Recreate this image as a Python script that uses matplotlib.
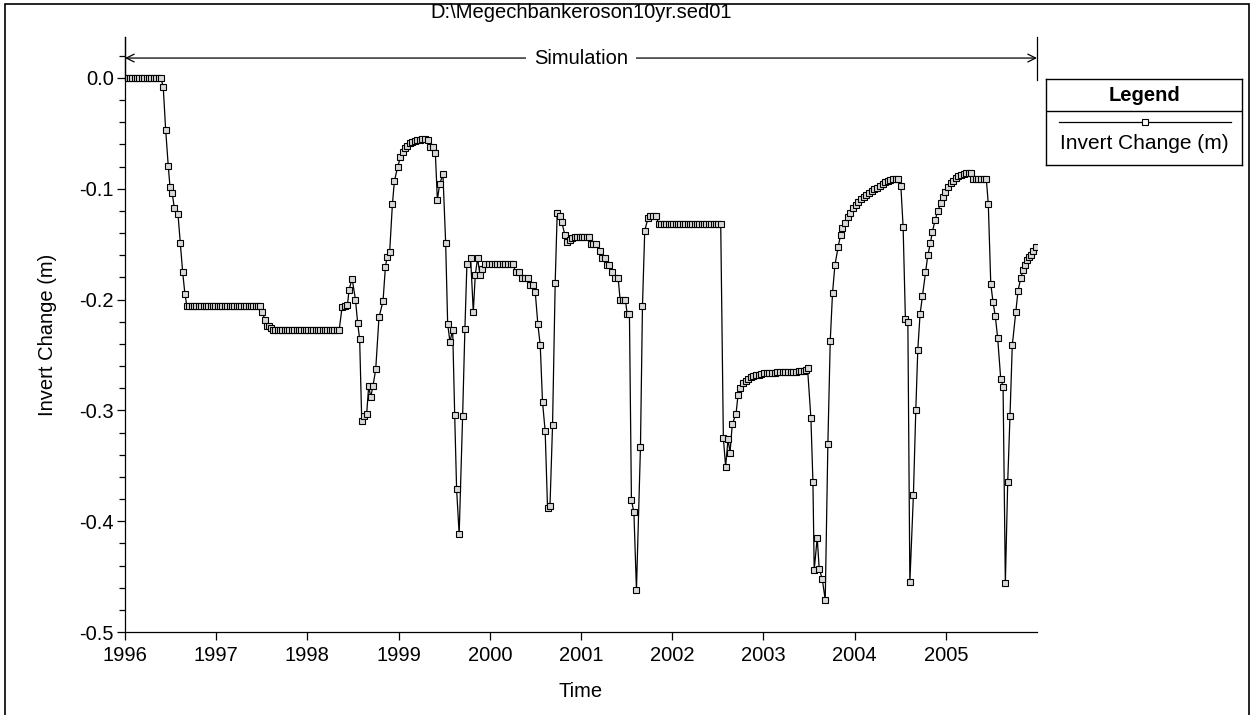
import numpy as np
import matplotlib
matplotlib.use("Agg")
import matplotlib.pyplot as plt
from matplotlib.lines import Line2D
from matplotlib.patches import Rectangle
from matplotlib.ticker import MultipleLocator, FormatStrFormatter

plt.rcParams['font.family'] = ['Liberation Sans', 'DejaVu Sans']
plt.rcParams['axes.unicode_minus'] = False

title = r"D:\Megechbankeroson10yr.sed01"
series_name = "Invert Change (m)"
year_ticks = list(range(1996, 2006))

# time in years since 1996-01-01, invert change in m
t_1996 = [0.000, 0.026, 0.053, 0.079, 0.105, 0.131, 0.158, 0.184, 0.210, 0.237,
          0.263, 0.289, 0.316, 0.342, 0.368, 0.394,
          0.419, 0.446, 0.474, 0.493, 0.518, 0.540, 0.581, 0.606, 0.632, 0.657,
          0.679, 0.705, 0.731, 0.757, 0.783, 0.809, 0.835, 0.861, 0.887, 0.913,
          0.939, 0.965, 0.991]
v_1996 = [0.0, 0.0, 0.0, 0.0, 0.0, 0.0, 0.0, 0.0, 0.0, 0.0,
          0.0, 0.0, 0.0, 0.0, 0.0, 0.0,
          -0.008, -0.047, -0.079, -0.098, -0.104, -0.117, -0.123, -0.149, -0.175, -0.195,
          -0.206, -0.206, -0.206, -0.206, -0.206, -0.206, -0.206, -0.206, -0.206, -0.206,
          -0.206, -0.206, -0.206]

t_1997 = [1.017, 1.043, 1.069, 1.095, 1.121, 1.147, 1.173, 1.199, 1.225, 1.251,
          1.277, 1.303, 1.329, 1.355, 1.381, 1.407, 1.433, 1.459, 1.485,
          1.504, 1.533, 1.559, 1.574, 1.599, 1.621,
          1.647, 1.673, 1.699, 1.725, 1.751, 1.777, 1.803, 1.829, 1.855, 1.881,
          1.907, 1.933, 1.959, 1.985]
v_1997 = [-0.206, -0.206, -0.206, -0.206, -0.206, -0.206, -0.206, -0.206, -0.206, -0.206,
          -0.206, -0.206, -0.206, -0.206, -0.206, -0.206, -0.206, -0.206, -0.206,
          -0.211, -0.218, -0.224, -0.224, -0.226, -0.227,
          -0.227, -0.227, -0.227, -0.227, -0.227, -0.227, -0.227, -0.227, -0.227, -0.227,
          -0.227, -0.227, -0.227, -0.227]

t_1998 = [2.011, 2.037, 2.063, 2.089, 2.115, 2.141, 2.167, 2.193, 2.219, 2.245,
          2.271, 2.297, 2.323, 2.349,
          2.380, 2.410, 2.439, 2.457, 2.490, 2.527, 2.551, 2.573, 2.596, 2.623,
          2.650, 2.672, 2.694, 2.719, 2.749, 2.785, 2.829, 2.855, 2.873, 2.902,
          2.932, 2.954, 2.990]
v_1998 = [-0.227, -0.227, -0.227, -0.227, -0.227, -0.227, -0.227, -0.227, -0.227, -0.227,
          -0.227, -0.227, -0.227, -0.227,
          -0.207, -0.206, -0.205, -0.191, -0.181, -0.200, -0.221, -0.236, -0.310, -0.305,
          -0.303, -0.278, -0.288, -0.278, -0.263, -0.216, -0.2015, -0.171, -0.1615, -0.157,
          -0.114, -0.093, -0.080]

t_1999 = [3.020, 3.048, 3.070, 3.092, 3.122, 3.151, 3.180, 3.206, 3.231, 3.261,
          3.289, 3.322, 3.348, 3.377, 3.403, 3.425, 3.450, 3.486, 3.516, 3.538,
          3.563, 3.593, 3.615, 3.636, 3.664, 3.702, 3.727, 3.749, 3.790, 3.819,
          3.841, 3.866, 3.892, 3.913, 3.951, 3.994]
v_1999 = [-0.0716, -0.0668, -0.0635, -0.061, -0.059, -0.0575, -0.0566, -0.056, -0.0557, -0.0553,
          -0.0553, -0.0557, -0.062, -0.0626, -0.0677, -0.110, -0.096, -0.0866, -0.149, -0.222,
          -0.238, -0.2274, -0.304, -0.371, -0.412, -0.305, -0.2265, -0.168, -0.1627, -0.211,
          -0.1775, -0.1627, -0.1775, -0.1727, -0.168, -0.1675]

t_2000 = [4.023, 4.052, 4.082, 4.111, 4.140, 4.170, 4.198, 4.228, 4.253,
          4.282, 4.318, 4.356, 4.384, 4.414, 4.444, 4.473, 4.498, 4.527, 4.553,
          4.578, 4.607, 4.633, 4.660, 4.688, 4.717, 4.739, 4.765, 4.790, 4.823,
          4.849, 4.874, 4.903, 4.929, 4.956, 4.984]
v_2000 = [-0.1675, -0.1675, -0.1675, -0.1675, -0.1675, -0.1675, -0.1675, -0.1675, -0.1675,
          -0.1748, -0.1748, -0.1805, -0.1805, -0.1805, -0.187, -0.187, -0.193, -0.2223, -0.241,
          -0.2924, -0.3186, -0.388, -0.386, -0.3135, -0.1847, -0.1218, -0.1248, -0.1302, -0.1417,
          -0.1483, -0.1462, -0.1444, -0.1435, -0.1435, -0.1435]

t_2001 = [5.011, 5.038, 5.066, 5.093, 5.107, 5.134, 5.166, 5.206, 5.232, 5.265,
          5.290, 5.312, 5.342, 5.370, 5.407, 5.429, 5.458, 5.487, 5.506, 5.531,
          5.553, 5.580, 5.608, 5.652, 5.674, 5.699, 5.736, 5.761, 5.786, 5.819,
          5.856, 5.882, 5.908, 5.934, 5.960, 5.986]
v_2001 = [-0.1435, -0.1435, -0.1435, -0.1435, -0.150, -0.150, -0.150, -0.1561, -0.1622, -0.1622,
          -0.1688, -0.1688, -0.175, -0.1802, -0.1802, -0.2004, -0.2004, -0.2004, -0.2127, -0.2127,
          -0.381, -0.392, -0.462, -0.333, -0.2058, -0.1378, -0.126, -0.1248, -0.1248, -0.1248,
          -0.1318, -0.1318, -0.1318, -0.1318, -0.1318, -0.1318]

t_2002 = [6.012, 6.038, 6.064, 6.090, 6.116, 6.142, 6.168, 6.194, 6.220, 6.246,
          6.272, 6.298, 6.324, 6.350, 6.376, 6.402, 6.428, 6.454, 6.480, 6.506,
          6.532, 6.561, 6.586, 6.612, 6.634, 6.659, 6.700, 6.722, 6.747, 6.777,
          6.805, 6.831, 6.860, 6.889, 6.919, 6.947, 6.977]
v_2002 = [-0.1318, -0.1318, -0.1318, -0.1318, -0.1318, -0.1318, -0.1318, -0.1318, -0.1318, -0.1318,
          -0.1318, -0.1318, -0.1318, -0.1318, -0.1318, -0.1318, -0.1318, -0.1318, -0.1318, -0.1318,
          -0.1318, -0.325, -0.3508, -0.326, -0.338, -0.3123, -0.303, -0.286, -0.2795, -0.2756,
          -0.2735, -0.272, -0.2702, -0.2693, -0.2684, -0.2678, -0.2671]

t_2003 = [7.006, 7.035, 7.064, 7.094, 7.123, 7.152, 7.182, 7.210, 7.240, 7.269,
          7.298, 7.327, 7.357, 7.385, 7.415, 7.444, 7.466, 7.484, 7.521, 7.543,
          7.557, 7.590, 7.612, 7.645, 7.678, 7.707, 7.733, 7.758, 7.784, 7.820,
          7.846, 7.867, 7.897, 7.926, 7.952, 7.981]
v_2003 = [-0.2665, -0.2665, -0.2662, -0.2659, -0.2659, -0.2656, -0.2653, -0.265, -0.265, -0.265,
          -0.265, -0.265, -0.265, -0.2647, -0.2644, -0.264, -0.2635, -0.262, -0.307, -0.3643,
          -0.444, -0.415, -0.443, -0.452, -0.471, -0.330, -0.2371, -0.194, -0.169, -0.1522,
          -0.1417, -0.1357, -0.1306, -0.1255, -0.1215, -0.1176]

t_2004 = [8.014, 8.039, 8.072, 8.102, 8.130, 8.160, 8.189, 8.218, 8.247, 8.277,
          8.306, 8.335, 8.365, 8.393, 8.423, 8.452, 8.481, 8.507, 8.532, 8.557,
          8.584, 8.606, 8.645, 8.671, 8.693, 8.718, 8.744, 8.777, 8.803, 8.831,
          8.853, 8.883, 8.912, 8.949, 8.970, 8.996]
v_2004 = [-0.1143, -0.1119, -0.1095, -0.1074, -0.1059, -0.1041, -0.1023, -0.1005, -0.099, -0.0975,
          -0.0957, -0.0941, -0.093, -0.092, -0.0914, -0.0909, -0.0909, -0.0972, -0.1345, -0.2172,
          -0.2202, -0.455, -0.376, -0.2996, -0.2452, -0.213, -0.1965, -0.1754, -0.1597, -0.1492,
          -0.1387, -0.1282, -0.120, -0.1125, -0.1071, -0.1029]

t_2005 = [9.025, 9.055, 9.080, 9.110, 9.138, 9.168, 9.197, 9.226, 9.255, 9.277,
          9.299, 9.328, 9.357, 9.387, 9.416, 9.444, 9.466, 9.493, 9.518, 9.543,
          9.569, 9.602, 9.628, 9.653, 9.679, 9.704, 9.729, 9.767, 9.792, 9.821,
          9.847, 9.869, 9.894, 9.916, 9.938, 9.960, 9.986]
v_2005 = [-0.0986, -0.095, -0.0927, -0.090, -0.0884, -0.0872, -0.0863, -0.0857, -0.0854, -0.0857,
          -0.0909, -0.0909, -0.0909, -0.0909, -0.0909, -0.0909, -0.1137, -0.1856, -0.2025, -0.215,
          -0.235, -0.2713, -0.2785, -0.456, -0.3643, -0.3047, -0.2413, -0.211, -0.192, -0.1808,
          -0.1733, -0.1688, -0.1643, -0.162, -0.1597, -0.1561, -0.1522]

t = 1996 + np.array(t_1996 + t_1997 + t_1998 + t_1999 + t_2000 +
                    t_2001 + t_2002 + t_2003 + t_2004 + t_2005)
v = np.array(v_1996 + v_1997 + v_1998 + v_1999 + v_2000 +
             v_2001 + v_2002 + v_2003 + v_2004 + v_2005)

fig = plt.figure(figsize=(12.51, 7.15), dpi=100)
ax = fig.add_axes([125 / 1251, 83 / 715, 912 / 1251, 595 / 715])

line_style = dict(color='black', lw=0.9, marker='s', ms=4.2, mfc='#d8d8d8',
                  mec='black', mew=0.8)
ax.plot(t, v, **line_style)

ax.set_xlim(1996, 2006)
ax.set_ylim(-0.5, 0.037)
ax.set_xticks(year_ticks)
ax.set_xticklabels([str(y) for y in year_ticks])
ax.yaxis.set_major_locator(MultipleLocator(0.1))
ax.yaxis.set_minor_locator(MultipleLocator(0.02))
ax.yaxis.set_major_formatter(FormatStrFormatter('%.1f'))
ax.tick_params(axis='both', which='major', labelsize=14.5, length=6, width=0.9, pad=2)
ax.tick_params(axis='x', which='major', pad=4)
ax.tick_params(axis='y', which='minor', length=4, width=0.9)
for s in ['top', 'right']:
    ax.spines[s].set_visible(False)
for s in ['left', 'bottom']:
    ax.spines[s].set_linewidth(0.9)

ax.set_xlabel("Time", fontsize=14.5, labelpad=12)
ax.set_ylabel("Invert Change (m)", fontsize=14.5, labelpad=16)

# simulation span marker
ax.plot([1996, 1996], [-0.002, 0.037], color='black', lw=0.9, clip_on=False)
ax.plot([2006, 2006], [-0.002, 0.037], color='black', lw=0.9, clip_on=False)
ax.annotate("", xy=(1996, 0.018), xytext=(2006, 0.018),
            arrowprops=dict(arrowstyle='<->', color='black', lw=0.9,
                            shrinkA=0, shrinkB=0, mutation_scale=14))
ax.text(2001.0, 0.018, "Simulation", ha='center', va='center', fontsize=14.5,
        bbox=dict(facecolor='white', edgecolor='none', pad=6))

fig.text(581 / 1251, 1 - 13 / 715, title, ha='center', va='center', fontsize=14.5)

# outer border
fig.patches.append(Rectangle((5 / 1251, -0.01), 1244 / 1251, 1.01 - 4 / 715,
                             transform=fig.transFigure, fill=False,
                             edgecolor='black', lw=1.2))

# legend box
lax = fig.add_axes([1046 / 1251, (715 - 165) / 715, 196 / 1251, 86 / 715])
lax.set_xlim(0, 1)
lax.set_ylim(0, 1)
lax.set_xticks([])
lax.set_yticks([])
for s in lax.spines.values():
    s.set_linewidth(1.0)
lax.text(0.5, 0.81, "Legend", ha='center', va='center', fontsize=14.5, fontweight='bold')
lax.axhline(0.628, color='black', lw=1.0)
lax.add_line(Line2D([0.066, 0.944], [0.5, 0.5], color='black', lw=0.9))
lax.add_line(Line2D([0.505], [0.5], marker='s', ms=4.2, mfc='white', mec='black', mew=0.8))
lax.text(0.5, 0.25, series_name, ha='center', va='center', fontsize=15)

fig.savefig("out.png", dpi=100)
